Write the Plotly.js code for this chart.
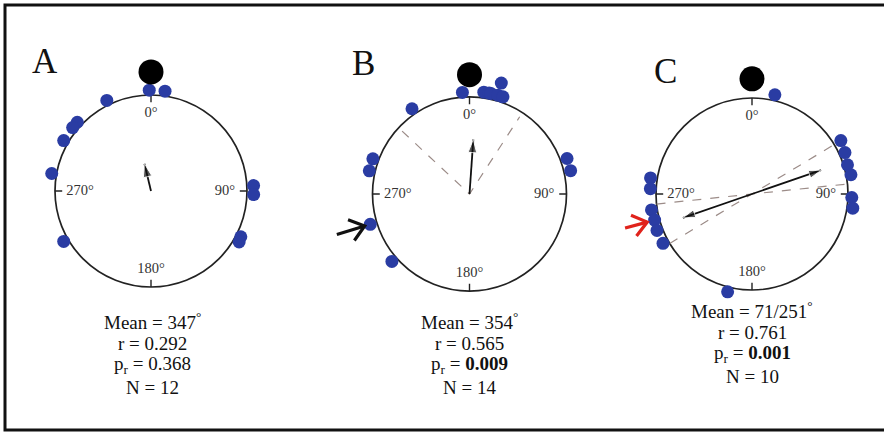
<!DOCTYPE html>
<html><head><meta charset="utf-8">
<script src="https://cdn.plot.ly/plotly-3.0.1.min.js"></script>
<style>html,body{margin:0;padding:0;background:#fff}</style>
</head><body><div id="chart" style="width:884px;height:432px"></div>
<script>
// ---------------- data ----------------
const panelLabels = ['A', 'B', 'C'];
// individual headings (degrees, clockwise from 0 at top) and radial stacking
const dotThetaA = [359, 8, 334, 313, 309, 300, 280, 87, 92, 117, 120, 240];
const dotRA     = [1.05, 1.05, 1.05, 1.05, 1.05, 1.05, 1.05, 1.07, 1.07, 1.05, 1.06, 1.05];
const dotThetaB = [356, 8, 11, 12, 16, 19, 16, 326, 290, 283, 253, 229, 70, 77];
const dotRB     = [1.05, 1.06, 1.06, 1.06, 1.06, 1.06, 1.19, 1.06, 1.06, 1.06, 1.07, 1.06, 1.07, 1.07];
const dotThetaC = [279, 273, 261, 255, 249, 241, 59, 66, 73, 79, 92, 98, 13, 194];
const dotRC     = [1.07, 1.06, 1.06, 1.05, 1.06, 1.06, 1.08, 1.06, 1.04, 1.05, 1.04, 1.06, 1.06, 1.05];
// reference (large black) marker
const refTheta = [0, 0, 0];
const refR = [1.24, 1.23, 1.2];
// mean vectors
const meanAngleA = 346.5, meanLenA = 0.292;
const meanAngleB = 4, meanLenB = 0.565;
const meanAnglesC = [71, 251], meanLenC = 0.761;
// confidence limits
const ciB = [313, 33];
const ciC = [59, 84];
// highlighted individuals (pointer arrows)
const pointerThetaB = 253;
const pointerThetaC = 255;
// statistics text
const meanText = ['347', '354', '71/251'];
const rText = ['0.292', '0.565', '0.761'];
const prText = ['0.368', '0.009', '0.001'];
const prBold = [false, true, true];
const nText = ['12', '14', '10'];
const axisTickVals = [0, 90, 180, 270];
const axisTickText = ['0°', '90°', '180°', '270°'];

// ---------------- style ----------------
const W = 884, H = 432;
const BLUE = '#2a3ca3';
const DASH = '#9c8c88';
const INK = '#222';
const SERIF = 'Liberation Serif, Times New Roman, serif';
// circle centre (px), unit-circle radius (px), radial range max
const circles = [
  {cx: 151, cy: 191, r: 96, rmax: 1.45},
  {cx: 469.5, cy: 194, r: 97, rmax: 1.45},
  {cx: 752, cy: 194, r: 96, rmax: 1.37}
];
const tickLabelR = [0.81, 0.77, 0.82, 0.74];

const traces = [];
function sp(i) { return i === 0 ? 'polar' : 'polar' + (i + 1); }

// axis tick marks (inside the unit circle)
const tickR = [], tickT = [];
axisTickVals.forEach(v => { tickR.push(1, 0.925, null); tickT.push(v, v, null); });
for (let i = 0; i < 3; i++) {
  traces.push({type: 'scatterpolar', subplot: sp(i), mode: 'lines', r: tickR, theta: tickT,
    connectgaps: false, line: {color: INK, width: 1.4}, cliponaxis: false});
}

// dashed confidence lines
traces.push({type: 'scatterpolar', subplot: sp(1), mode: 'lines', r: [0.95, 0, 0.95],
  theta: [ciB[0], ciB[0], ciB[1]], line: {color: DASH, width: 1.2, dash: 'dash'}, cliponaxis: false});
traces.push({type: 'scatterpolar', subplot: sp(2), mode: 'lines', r: [1, 0, 1],
  theta: [ciC[0] + 180, ciC[0] + 180, ciC[0]], line: {color: DASH, width: 1.2, dash: 'dash'}, cliponaxis: false});
traces.push({type: 'scatterpolar', subplot: sp(2), mode: 'lines', r: [1, 0, 1],
  theta: [ciC[1] + 180, ciC[1] + 180, ciC[1]], line: {color: DASH, width: 1.2, dash: 'dash'}, cliponaxis: false});

// tick labels inside circle
for (let i = 0; i < 3; i++) {
  traces.push({type: 'scatterpolar', subplot: sp(i), mode: 'text', r: tickLabelR, theta: axisTickVals,
    text: axisTickText, textfont: {family: SERIF, size: 14.5, color: '#333'}, cliponaxis: false});
}

// mean vectors
traces.push({type: 'scatterpolar', subplot: sp(0), mode: 'lines+markers', r: [0, meanLenA],
  theta: [meanAngleA, meanAngleA], line: {color: '#111', width: 1.8},
  marker: {symbol: 'arrow', size: [0, 14], angle: [0, meanAngleA], color: '#111'}, cliponaxis: false});
traces.push({type: 'scatterpolar', subplot: sp(1), mode: 'lines+markers', r: [0, meanLenB],
  theta: [meanAngleB, meanAngleB], line: {color: '#111', width: 1.8},
  marker: {symbol: 'arrow', size: [0, 14], angle: [0, meanAngleB], color: '#111'}, cliponaxis: false});
traces.push({type: 'scatterpolar', subplot: sp(2), mode: 'lines+markers', r: [meanLenC, 0, meanLenC],
  theta: [meanAnglesC[1], meanAnglesC[1], meanAnglesC[0]], line: {color: '#111', width: 1.8},
  marker: {symbol: 'arrow', size: [13, 0, 13], angle: [meanAnglesC[1], 0, meanAnglesC[0]], color: '#111'}, cliponaxis: false});

// dots
[[dotThetaA, dotRA], [dotThetaB, dotRB], [dotThetaC, dotRC]].forEach((d, i) => {
  traces.push({type: 'scatterpolar', subplot: sp(i), mode: 'markers', r: d[1], theta: d[0],
    marker: {color: BLUE, size: 13, line: {width: 0}}, cliponaxis: false});
  traces.push({type: 'scatterpolar', subplot: sp(i), mode: 'markers', r: [refR[i]], theta: [refTheta[i]],
    marker: {color: '#000', size: 25, line: {width: 0}}, cliponaxis: false});
});

// pointer arrows
[[1, pointerThetaB, '#111'], [2, pointerThetaC, '#e0231c']].forEach(p => {
  const [i, th, col] = p;
  traces.push({type: 'scatterpolar', subplot: sp(i), mode: 'lines', r: [1.43, 1.13],
    theta: [th, th], line: {color: col, width: 3.2}, cliponaxis: false});
  traces.push({type: 'scatterpolar', subplot: sp(i), mode: 'lines', r: [1.28, 1.13, 1.28],
    theta: [th - 5, th, th + 5], line: {color: col, width: 3.2}, cliponaxis: false});
});

function polarLayout(c) {
  const R = c.r * c.rmax;
  return {
    domain: {x: [(c.cx - R) / W, (c.cx + R) / W], y: [1 - (c.cy + R) / H, 1 - (c.cy - R) / H]},
    bgcolor: 'rgba(0,0,0,0)',
    radialaxis: {visible: true, range: [0, c.rmax], showline: false, showticklabels: false, ticks: '',
      tickmode: 'array', tickvals: [1], showgrid: true, gridcolor: INK, gridwidth: 1.7},
    angularaxis: {rotation: 90, direction: 'clockwise', showgrid: false, showticklabels: false,
      ticks: '', showline: false}
  };
}

const annotations = [];
const letterPos = [[45, 62], [363, 63], [665, 71]];
panelLabels.forEach((t, i) => {
  annotations.push({xref: 'paper', yref: 'paper', x: letterPos[i][0] / W, y: 1 - letterPos[i][1] / H,
    text: t, showarrow: false, font: {family: SERIF, size: 35, color: '#111'}, xanchor: 'center', yanchor: 'middle'});
});
const statX = [152, 469, 752];
const statY0 = [321, 321, 310];
for (let i = 0; i < 3; i++) {
  const lines = [
    'Mean = ' + meanText[i] + '<sup>°</sup>',
    'r = ' + rText[i],
    'p<sub>r</sub> = ' + (prBold[i] ? '<b>' + prText[i] + '</b>' : prText[i]),
    'N = ' + nText[i]
  ];
  lines.forEach((l, k) => {
    annotations.push({xref: 'paper', yref: 'paper', x: statX[i] / W, y: 1 - (statY0[i] + 22 * k) / H,
      text: l, showarrow: false, font: {family: SERIF, size: 19, color: '#111'}, xanchor: 'center', yanchor: 'middle'});
  });
}

const layout = {
  width: W, height: H, margin: {l: 0, r: 0, t: 0, b: 0},
  paper_bgcolor: '#fff', showlegend: false,
  polar: polarLayout(circles[0]), polar2: polarLayout(circles[1]), polar3: polarLayout(circles[2]),
  annotations: annotations,
  shapes: [
    {type: 'rect', xref: 'paper', yref: 'paper', x0: 5 / W, x1: 1.05, y0: 1 - 430 / H, y1: 1 - 5 / H,
      line: {color: '#111', width: 3}}
  ]
};
Plotly.newPlot('chart', traces, layout, {displayModeBar: false, staticPlot: true});
</script></body></html>
